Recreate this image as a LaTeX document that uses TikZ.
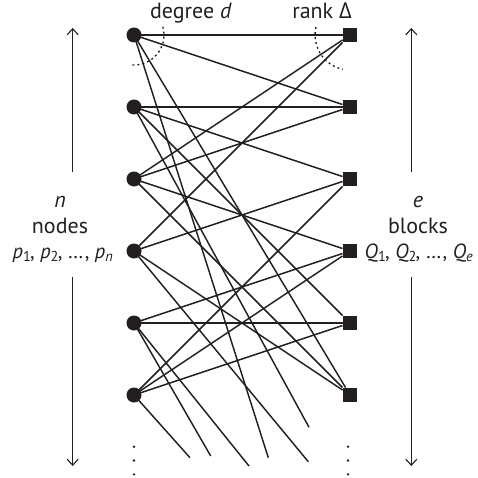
\documentclass[tikz,border=0pt]{standalone}
\usepackage{fontspec}
\setmainfont{PT Sans}
\newfontfamily\grk{Open Sans}
\usetikzlibrary{arrows.meta}
\definecolor{ink}{RGB}{35,31,32}
\newcommand\mysub[1]{\textsubscript{#1}\kern-1.2pt}
\begin{document}
\begin{tikzpicture}[x=1pt,y=-1pt,
  vtx/.style={circle,fill=ink,inner sep=0pt,minimum size=15pt},
  blk/.style={rectangle,fill=ink,inner sep=0pt,minimum size=14.5pt},
  edge/.style={line width=1.45pt, draw=ink},
  darc/.style={line width=1.3pt, draw=ink, dash pattern=on 2pt off 3pt},
  lbl/.style={font=\fontsize{22}{22}\selectfont, inner sep=0pt, text=ink},
  slbl/.style={font=\fontsize{20.5}{20.5}\selectfont, inner sep=0pt, text=ink},
  dim/.style={line width=1.1pt, draw=ink, -{Straight Barb[length=6pt,width=11pt]}},
  dotc/.style={circle,fill=ink,inner sep=0pt,minimum size=2.6pt}
]
\useasboundingbox (0,0) rectangle (478,478);
% vertices and blocks
\foreach \i/\yy in {1/35,2/107,3/179,4/251,5/323,6/395}{
  \node[vtx] (L\i) at (134,\yy) {};
  \node[blk] (R\i) at (350,\yy) {};
}
% free ends
\coordinate (F1) at (190,457.7);
\coordinate (F2) at (210.7,456);
\coordinate (F3) at (249,466);
\coordinate (F4) at (268.3,457.7);
\coordinate (F5) at (308.3,461.7);
\coordinate (F6) at (309,427.3);
% edges
\foreach \a/\b in {L1/R1,L1/R2,L1/R6,L1/F4,
                   L2/R2,L2/R3,L2/R5,L2/F6,
                   L3/R1,L3/R2,L3/R4,L3/R6,
                   L4/R1,L4/R3,L4/R6,L4/F5,
                   L5/R4,L5/R5,L5/F2,L5/F3,
                   L6/R3,L6/R4,L6/R5,L6/F1}{
  \draw[edge] (\a.center) -- (\b);
}
% dotted arcs
\draw[darc] ([shift={(-16:30)}]L1.center) arc[start angle=-16,end angle=94,radius=30];
\draw[darc] ([shift={(-167:35)}]R1.center) arc[start angle=-167,end angle=-258,radius=35];
% vertical dots
\foreach \k/\yy in {1/446.7,2/460.5,3/474.3}{
  \node[dotc] (ld\k) at (134,\yy) {};
  \node[dotc] (rd\k) at (348,\yy) {};
}
% top labels
\node[lbl,anchor=base] (tdeg) at (191,19) {degree \textit{d}};
\node[lbl,anchor=base] (trank) at (322,19) {rank {\grk Δ}};
% left labels
\node[lbl,anchor=base] (tn) at (60,207) {\textit{n}};
\node[lbl,anchor=base] (tnodes) at (60,233) {nodes};
\node[slbl,anchor=base] (tp) at (63,258.5) {\textit{p}\mysub{1}, \textit{p}\mysub{2}, …, \textit{p}\textsubscript{\textit{n}}};
% right labels
\node[lbl,anchor=base] (te) at (418,207) {\textit{e}};
\node[lbl,anchor=base] (tblocks) at (418,233) {blocks};
\node[slbl,anchor=base] (tq) at (419,258.5) {\textit{Q}\mysub{1}, \textit{Q}\mysub{2}, …, \textit{Q}\textsubscript{\textit{e}}};
% arrows
\coordinate (la1) at (72.7,172); \coordinate (la2) at (72.7,28);
\coordinate (la3) at (72.7,277); \coordinate (la4) at (72.7,466);
\coordinate (ra1) at (411.3,172); \coordinate (ra2) at (411.3,28);
\coordinate (ra3) at (411.3,277); \coordinate (ra4) at (411.3,466);
\draw[dim] (la1) -- (la2);
\draw[dim] (la3) -- (la4);
\draw[dim] (ra1) -- (ra2);
\draw[dim] (ra3) -- (ra4);
\end{tikzpicture}
\end{document}
